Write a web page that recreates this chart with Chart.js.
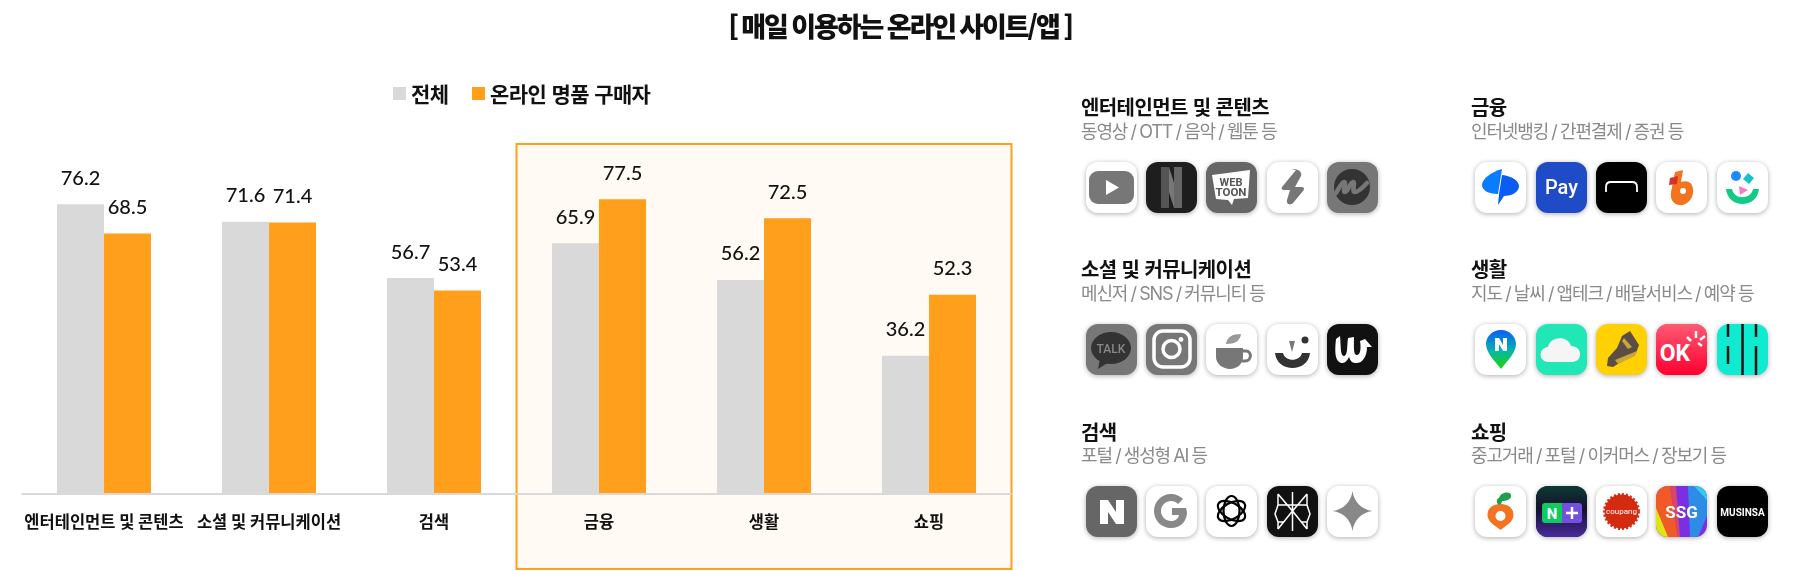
<!DOCTYPE html>
<html lang="ko">
<head>
<meta charset="utf-8">
<title>매일 이용하는 온라인 사이트/앱</title>
<script src="https://cdn.jsdelivr.net/npm/chart.js@4"></script>
<style>
  html, body { margin: 0; padding: 0; background: #fff; }
  body { position: relative; width: 1800px; height: 571px; overflow: hidden; font-family: "Noto Sans CJK KR", "Noto Sans", sans-serif; color: #111; }
  canvas { position: absolute; left: 0; top: 0; }
  .abs { position: absolute; white-space: nowrap; line-height: 1; }
  #title { left: 0; width: 1800px; text-align: center; top: 12px; font-size: 27px; font-weight: 900; letter-spacing: -2.1px; word-spacing: -1px; }
  .legend-box { width: 13px; height: 13px; top: 87px; }
  .legend-text { top: 83px; font-size: 21px; font-weight: 700; letter-spacing: -.6px; }
  .head { font-size: 20px; font-weight: 700; letter-spacing: -.6px; }
  .sub { font-family: Inter, "Noto Sans CJK KR", sans-serif; font-size: 18px; color: #8a8a8a; letter-spacing: -1.15px; word-spacing: -.6px; }
  .icon { position: absolute; width: 51px; height: 51px; border-radius: 12px; overflow: hidden; box-shadow: 0 1px 5px rgba(0,0,0,.32); }
  .icon svg { display: block; width: 51px; height: 51px; }
  .icon text { font-family: "Roboto", sans-serif; font-weight: 700; }
</style>
</head>
<body>
<canvas id="chart" width="1800" height="571"></canvas>
<div class="abs" id="title">[ 매일 이용하는 온라인 사이트/앱 ]</div>
<div id="side"></div>
<script>
// chart values
var categories = ['엔터테인먼트 및 콘텐츠', '소셜 및 커뮤니케이션', '검색', '금융', '생활', '쇼핑'];
var seriesNames = ['전체', '온라인 명품 구매자'];
var totalValues = [76.2, 71.6, 56.7, 65.9, 56.2, 36.2];
var buyerValues = [68.5, 71.4, 53.4, 77.5, 72.5, 52.3];

// right hand panel
var sectionNames = ['엔터테인먼트 및 콘텐츠', '소셜 및 커뮤니케이션', '검색', '금융', '생활', '쇼핑'];
var sectionSubs = ['동영상 / OTT / 음악 / 웹툰 등', '메신저 / SNS / 커뮤니티 등', '포털 / 생성형 AI 등', '인터넷뱅킹 / 간편결제 / 증권 등', '지도 / 날씨 / 앱테크 / 배달서비스 / 예약 등', '중고거래 / 포털 / 이커머스 / 장보기 등'];

var GRAY = '#D9D9D9';
var ORANGE = '#FF9F1C';

// each icon is [background, svg content]
var icons = [
  // entertainment
  ['#fff', '<rect x="3" y="9" width="45" height="33" rx="9" fill="#777"/><path d="M20 18l13 7.500-13 7.500z" fill="#fff"/>'],
  ['#1e1e1e', '<path d="M15 5h8l13 41h-8z" fill="#777"/><path d="M15 5h8v41h-8z" fill="#555"/><path d="M28 5h8v41h-8z" fill="#666"/>'],
  ['#666', '<path d="M6 13l38-5-2 28-14 1-2 6-4-5-12-1z" fill="#fff"/><text x="25" y="24" font-size="11" text-anchor="middle" fill="#555">WEB</text><text x="25" y="34" font-size="11.500" text-anchor="middle" fill="#555">TOON</text>'],
  ['#fff', '<path d="M29 8L15 25c-1 2 0 3 2 3h6l-3 10c-1 4 3 6 6 3l10-12c2-2 1-4-2-4h-6l6-11c2-5-6-8-9-6z" fill="#777"/>'],
  ['#777', '<circle cx="25" cy="25" r="18" fill="#333"/><path d="M9 31c3-5 6-11 8-11 3 0-2 10 1 10 3 0 5-10 8-10 3 0-2 10 2 10 4 0 8-5 12-9" fill="none" stroke="#777" stroke-width="4.500" stroke-linecap="round"/>'],
  // social
  ['#777', '<ellipse cx="25" cy="24" rx="20" ry="16" fill="#333"/><path d="M14 35l-2 10 11-7z" fill="#333"/><text x="25" y="29" font-size="12" text-anchor="middle" fill="#888" style="font-weight:500">TALK</text>'],
  ['#777', '<rect x="8" y="7" width="36" height="36" rx="9" fill="none" stroke="#fff" stroke-width="3.500"/><circle cx="25.500" cy="25" r="8.500" fill="none" stroke="#fff" stroke-width="3.500"/><circle cx="35" cy="15.500" r="2.400" fill="#fff"/>'],
  ['#fff', '<path d="M10 24h27v9c0 7-6 12-13 12s-14-5-14-12z" fill="#777"/><path d="M37 27h3c6 0 6 10-1 10h-3" fill="none" stroke="#777" stroke-width="3"/><path d="M20 20c1-7 6-10 15-10-1 7-6 10-15 10z" fill="#999"/>'],
  ['#fff', '<path d="M8 29c2 20 33 20 35 0h-8c-2 9-17 9-19 0z" fill="#333"/><path d="M22 17h6l-3 11z" fill="#777"/><circle cx="38" cy="16" r="3.500" fill="#333"/>'],
  ['#111', '<path d="M9 15l4-3c1 8 0 20 4 20s3-12 4-18l6-1c0 7-1 19 3 18 4 0 4-9 3-14l5-2 7 8-5 0c0 10-5 17-12 16-3 0-5-3-6-6-2 4-4 6-7 6-8-1-7-14-6-24z" fill="#fff"/>'],
  // search
  ['#666', '<path d="M14 14h8l8 12V14h8v24h-8l-8-12v12h-8z" fill="#fff"/>'],
  ['#fff', '<path d="M40 22H26v7h7c-1 4-4 6-8 6-5 0-10-4-10-10s5-10 10-10c3 0 5 1 7 3l5-5c-3-3-7-5-12-5-10 0-17 8-17 17s7 17 17 17c10 0 16-7 16-16z" fill="#888"/>'],
  ['#fff', '<g fill="none" stroke="#000" stroke-width="2.200"><ellipse cx="25.500" cy="25" rx="15" ry="8" transform="rotate(30 25.500 25)"/><ellipse cx="25.500" cy="25" rx="15" ry="8" transform="rotate(90 25.500 25)"/><ellipse cx="25.500" cy="25" rx="15" ry="8" transform="rotate(150 25.500 25)"/></g>'],
  ['#111', '<path d="M25.500 6v39M11 8l14.500 17L40 8M11 43l14.500-18L40 43M11 8v11h29V8M11 19l-3 9 3 8 6 0M40 19l3 9-3 8-6 0M11 36v7M40 36v7" fill="none" stroke="#fff" stroke-width="1.500"/>'],
  ['#fff', '<path d="M25.500 5c1.500 11 9 18.500 20 20-11 1.500-18.500 9-20 20-1.500-11-9-18.500-20-20 11-1.500 18.500-9 20-20z" fill="#888"/>'],
  // finance
  ['#fff', '<path d="M27 7L23 32c-10 0-16-4-16-9 0-6 9-13 20-16z" fill="#0A7CFF"/><path d="M27 13c10 1 17 6 17 11 0 6-7 10-15 10l-6 9 1-11z" fill="#0B5CF5"/>'],
  ['#1F4BC6', '<text x="25.500" y="32" font-size="20" text-anchor="middle" fill="#fff" style="font-weight:500">Pay</text>'],
  ['#000', '<path d="M10 30v-5c0-3 2-5 5-5h21c3 0 5 2 5 5v5" fill="none" stroke="#fff" stroke-width="1.800"/>'],
  ['#fff', '<path d="M19 10l8-2-2 12c9-3 13 3 12 11-1 8-8 13-14 12-6-1-9-6-8-13z" fill="#F47320"/><path d="M14 16l8-2-1 8-8 1z" fill="#D6322A"/><circle cx="27" cy="29" r="3" fill="#fff"/>'],
  ['#fff', '<circle cx="19" cy="14" r="5" fill="#1A8CFF"/><path d="M31 11l6 5-5 6-6-5z" fill="#13C4C4"/><path d="M22 24l9 4-8 5z" fill="#F77BC4"/><path d="M9 27c2 20 31 20 33 0h-6c-2 11-19 11-21 0z" fill="#0FCB85"/>'],
  // life
  ['#fff', '<defs><linearGradient id="pin" x1="0" y1="0" x2="0" y2="1"><stop offset="0" stop-color="#0A5BFF"/><stop offset=".55" stop-color="#06B7A8"/><stop offset="1" stop-color="#1FD600"/></linearGradient></defs><path d="M26 6c9 0 15 7 15 14 0 9-9 17-15 25-6-8-15-16-15-25 0-7 6-14 15-14z" fill="url(#pin)"/><path d="M20 14h4l4 7v-7h4v13h-4l-4-7v7h-4z" fill="#fff"/>'],
  ['#21E6B5', '<path d="M13 38c-11 0-11-14-1-15 2-11 20-12 23-1 12 0 12 16 1 16z" fill="#F5F5F5"/>'],
  ['#FFD100', '<path d="M11 42l1-8 9-10 5-12 8-5 9 14-3 8-15 9-8 5z" fill="#5C4E45"/><path d="M19 36l22-9-2 5-17 8zM28 14l8 9-4 2-6-8z" fill="#C9A63A"/>'],
  ['#FF2A4C', '<defs><linearGradient id="okg" x1="0" y1="0" x2="0" y2="1"><stop offset="0" stop-color="#FF5A72"/><stop offset="1" stop-color="#FF0030"/></linearGradient></defs><rect width="51" height="51" fill="url(#okg)"/><text x="19" y="37" font-size="23" text-anchor="middle" fill="#fff">OK</text><path d="M31 13l4 4M40 7v7M49 12l-5 4M42 19l4 3" stroke="#fff" stroke-width="2.500"/>'],
  ['#0EEBD0', '<path d="M11 0v13M11 22v18M25.500 0v51M39 0v13M39 22v29" stroke="#111" stroke-width="2.500"/>'],
  // shopping
  ['#fff', '<path d="M25.500 18c9 0 13 5 13 11 0 7-7 10-13 15-6-5-13-8-13-15 0-6 4-11 13-11z" fill="#F47320"/><circle cx="25.500" cy="30" r="5" fill="#fff"/><path d="M24 19c-3-2-3-6 0-7 2-6 11-7 12-3 1 5-6 6-9 6 0 2-1 3-3 4z" fill="#1E9E50"/>'],
  ['#1c1240', '<defs><linearGradient id="npg" x1="0" y1="0" x2="0" y2="1"><stop offset="0" stop-color="#0E3A33"/><stop offset=".45" stop-color="#14102E"/><stop offset="1" stop-color="#4A2A9E"/></linearGradient></defs><rect width="51" height="51" fill="url(#npg)"/><path d="M6 20q0-3 3-3h17v20H9q-3 0-3-3z" fill="#10C95F"/><path d="M26 17h17q3 0 3 3v14q0 3-3 3H26z" fill="#7450E0"/><text x="16" y="33" font-size="15" text-anchor="middle" fill="#fff">N</text><path d="M36 21v12M30 27h12" stroke="#fff" stroke-width="2.500"/>'],
  ['#fff', '<circle cx="25.500" cy="25.500" r="17" fill="#D32A10" stroke="#D32A10" stroke-width="3" stroke-dasharray="2 2"/><text x="25.500" y="28" font-size="8" text-anchor="middle" fill="#fff" style="font-weight:400">coupang</text>'],
  ['#7B2FE0', '<path d="M0 0h14l8 51H0z" fill="#F05A28"/><path d="M0 22l12 29H0z" fill="#DDE516"/><path d="M14 0h6l4 51h-2z" fill="#D9446A"/><path d="M32 0h19v30l-9 21H34z" fill="#2E8CE6"/><path d="M38 0h13v14z" fill="#35C9F0"/><text x="25.500" y="32" font-size="17" text-anchor="middle" fill="#fff">SSG</text>'],
  ['#000', '<text x="25.500" y="29.500" font-size="10" text-anchor="middle" fill="#fff">MUSINSA</text>']
];

// small helper for the html parts
function addText(cls, txt, left, top) {
  var d = document.createElement('div');
  d.className = 'abs ' + cls;
  d.textContent = txt;
  d.style.left = left + 'px';
  if (top !== null) d.style.top = top + 'px';
  document.getElementById('side').appendChild(d);
}
function addBox(color, left) {
  var d = document.createElement('div');
  d.className = 'abs legend-box';
  d.style.background = color;
  d.style.left = left + 'px';
  document.getElementById('side').appendChild(d);
}

// legend
addBox(GRAY, 393);
addText('legend-text', seriesNames[0], 411, null);
addBox(ORANGE, 472);
addText('legend-text', seriesNames[1], 490, null);

// panel: two columns with three blocks each
var headTops = [97, 259, 422];
var subTops = [123, 285, 447];
var iconTops = [162, 324, 486];
var textLefts = [1081, 1471];
var iconLefts = [[1086, 1146, 1206, 1267, 1327], [1475, 1536, 1596, 1656, 1717]];
sectionNames.forEach(function(name, i) {
  var col = i < 3 ? 0 : 1, row = i % 3;
  addText('head', name, textLefts[col], headTops[row]);
  addText('sub', sectionSubs[i], textLefts[col], subTops[row]);
  iconLefts[col].forEach(function(left, k) {
    var ic = icons[i * 5 + k];
    var d = document.createElement('div');
    d.className = 'icon';
    d.style.left = left + 'px';
    d.style.top = iconTops[row] + 'px';
    d.style.background = ic[0];
    d.innerHTML = '<svg viewBox="0 0 51 51">' + ic[1] + '</svg>';
    document.getElementById('side').appendChild(d);
  });
});

// box behind the last three groups and the axis line
var highlight = {
  id: 'highlight',
  beforeDraw: function(chart) {
    var c = chart.ctx, x = chart.scales.x;
    var left = x.getPixelForValue(2.5), right = chart.chartArea.right;
    c.save();
    c.fillStyle = '#FFFAF4';
    c.strokeStyle = ORANGE;
    c.lineWidth = 2;
    c.fillRect(left, 144, right - left, 425);
    c.strokeRect(left, 144, right - left, 425);
    c.fillStyle = GRAY;
    c.fillRect(x.left, chart.chartArea.bottom, x.width, 2);
    c.restore();
  }
};

// numbers above the bars
var valueLabels = {
  id: 'valueLabels',
  afterDatasetsDraw: function(chart) {
    var c = chart.ctx;
    c.save();
    c.font = '500 20px Lato, sans-serif';
    c.fillStyle = '#111';
    c.textAlign = 'center';
    c.textBaseline = 'middle';
    chart.data.datasets.forEach(function(ds, i) {
      chart.getDatasetMeta(i).data.forEach(function(bar, k) {
        c.fillText(ds.data[k].toFixed(1), bar.x, bar.y - 26);
      });
    });
    c.restore();
  }
};

new Chart(document.getElementById('chart').getContext('2d'), {
  type: 'bar',
  data: {
    labels: categories,
    datasets: [
      { label: seriesNames[0], data: totalValues, backgroundColor: GRAY },
      { label: seriesNames[1], data: buyerValues, backgroundColor: ORANGE }
    ]
  },
  options: {
    responsive: false,
    animation: false,
    layout: { padding: { left: 21.5, right: 788.5, top: 114, bottom: 0 } },
    datasets: { bar: { categoryPercentage: 0.57, barPercentage: 1 } },
    plugins: { legend: { display: false }, tooltip: { enabled: false } },
    scales: {
      x: {
        afterFit: function(s) { s.height = 78; },
        grid: { display: false, drawTicks: false },
        border: { display: false },
        ticks: {
          autoSkip: false,
          maxRotation: 0,
          padding: 19,
          color: '#111',
          font: { family: '"Noto Sans CJK KR"', size: 16.5, weight: '700' }
        }
      },
      y: { display: false, min: 0, max: 100 }
    }
  },
  plugins: [highlight, valueLabels]
});
</script>
</body>
</html>
